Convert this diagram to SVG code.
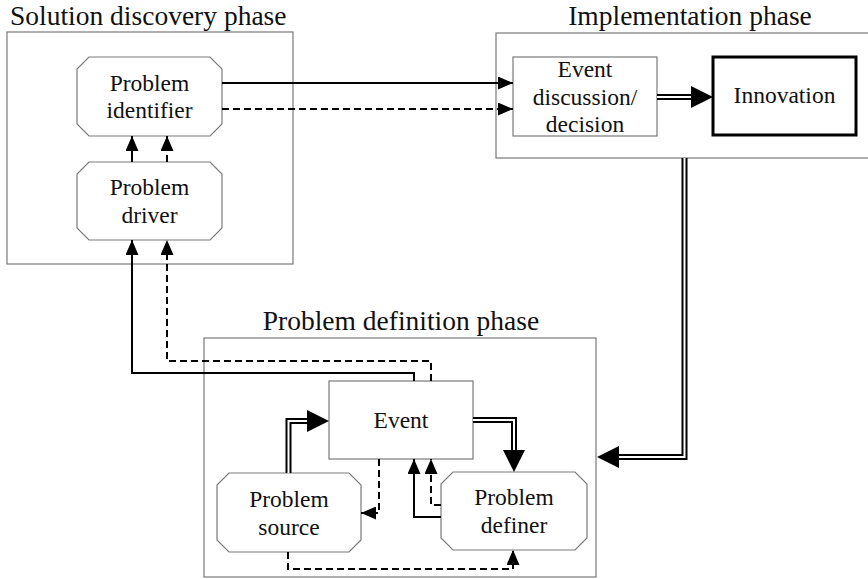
<svg xmlns="http://www.w3.org/2000/svg" width="868" height="579" viewBox="0 0 868 579">
  <style>
    .phase { fill: none; stroke: #7a7a7a; stroke-width: 1.2; }
    .node { fill: #fff; stroke: #7a7a7a; stroke-width: 1.2; }
    .title { font-family: 'Liberation Serif', 'Times New Roman', serif; font-size: 27.5px; fill: #111; }
    .lbl { font-family: 'Liberation Serif', 'Times New Roman', serif; font-size: 23.5px; fill: #111; text-anchor: middle; }
    .solid { fill: none; stroke: #000; stroke-width: 2; }
    .dash { fill: none; stroke: #000; stroke-width: 2; stroke-dasharray: 7 4; }
    .dbl-out { fill: none; stroke: #000; stroke-width: 6; stroke-linejoin: miter; }
    .dbl-in { fill: none; stroke: #fff; stroke-width: 2; stroke-linejoin: miter; }
  </style>
  <defs>
    <marker id="arr" markerUnits="userSpaceOnUse" markerWidth="15" markerHeight="13" refX="15" refY="6.5" orient="auto">
      <path d="M0,0 L15,6.5 L0,13 z" fill="#000"/>
    </marker>
    <marker id="big" markerUnits="userSpaceOnUse" markerWidth="22" markerHeight="22" refX="0" refY="11" orient="auto">
      <path d="M0,0 L22,11 L0,22 z" fill="#000"/>
    </marker>
  </defs>

  <!-- phase frames -->
  <g id="solution-phase">
    <rect class="phase" x="7" y="32" width="286" height="232"/>
    <text class="title" x="10" y="25">Solution discovery phase</text>
  </g>
  <g id="implementation-phase">
    <rect class="phase" x="496" y="33" width="380" height="125"/>
    <text class="title" x="690" y="25" text-anchor="middle">Implementation phase</text>
  </g>
  <g id="definition-phase">
    <rect class="phase" x="204" y="338" width="392" height="239"/>
    <text class="title" x="401" y="330" text-anchor="middle">Problem definition phase</text>
  </g>

  <!-- nodes -->
  <g id="problem-identifier">
    <polygon class="node" points="89,57 210,57 222,69 222,124 210,136 89,136 77,124 77,69"/>
    <text class="lbl" x="149.5" y="91">Problem</text>
    <text class="lbl" x="149.5" y="118">identifier</text>
  </g>
  <g id="problem-driver">
    <polygon class="node" points="89,162 210,162 222,174 222,228 210,240 89,240 77,228 77,174"/>
    <text class="lbl" x="149.5" y="195">Problem</text>
    <text class="lbl" x="149.5" y="223">driver</text>
  </g>
  <g id="event-discussion">
    <rect class="node" x="513" y="57" width="144" height="79"/>
    <text class="lbl" x="585" y="77">Event</text>
    <text class="lbl" x="585" y="105">discussion/</text>
    <text class="lbl" x="585" y="132">decision</text>
  </g>
  <g id="innovation">
    <rect x="713" y="57" width="143" height="78" fill="#fff" stroke="#000" stroke-width="3"/>
    <text class="lbl" x="784.5" y="103">Innovation</text>
  </g>
  <g id="event">
    <rect class="node" x="329" y="381" width="144" height="78"/>
    <text class="lbl" x="401" y="428">Event</text>
  </g>
  <g id="problem-source">
    <polygon class="node" points="229,473 349,473 361,485 361,540 349,552 229,552 217,540 217,485"/>
    <text class="lbl" x="289" y="507">Problem</text>
    <text class="lbl" x="289" y="535">source</text>
  </g>
  <g id="problem-definer">
    <polygon class="node" points="453,472 575,472 587,484 587,538 575,550 453,550 441,538 441,484"/>
    <text class="lbl" x="514" y="505">Problem</text>
    <text class="lbl" x="514" y="533">definer</text>
  </g>

  <!-- connectors -->
  <g id="connectors">
    <!-- single solid / dashed flows -->
    <path class="solid" d="M222,83 H513" marker-end="url(#arr)"/>
    <path class="dash" d="M222,109 H513" marker-end="url(#arr)"/>
    <path class="solid" d="M132,162 V136" marker-end="url(#arr)"/>
    <path class="dash" d="M167,162 V136" marker-end="url(#arr)"/>
    <path class="solid" d="M414,381 V373 H132 V240" marker-end="url(#arr)"/>
    <path class="dash" d="M431,381 V361 H167 V240" marker-end="url(#arr)"/>
    <path class="dash" d="M379,459 V513 H361" marker-end="url(#arr)"/>
    <path class="solid" d="M441,517 H414 V459" marker-end="url(#arr)"/>
    <path class="dash" d="M441,505 H431 V459" marker-end="url(#arr)"/>
    <path class="dash" d="M288,552 V569 H513 V550" marker-end="url(#arr)"/>

    <!-- double-line flows -->
    <path class="dbl-out" d="M657,97 H691" marker-end="url(#big)"/>
    <path class="dbl-in" d="M657,97 H691"/>
    <path class="dbl-out" d="M684.5,158 V457 H619" marker-end="url(#big)"/>
    <path class="dbl-in" d="M684.5,158 V457 H619"/>
    <path class="dbl-out" d="M288.5,473 V421 H307" marker-end="url(#big)"/>
    <path class="dbl-in" d="M288.5,473 V421 H307"/>
    <path class="dbl-out" d="M473,420 H514 V450" marker-end="url(#big)"/>
    <path class="dbl-in" d="M473,420 H514 V450"/>
  </g>
</svg>
